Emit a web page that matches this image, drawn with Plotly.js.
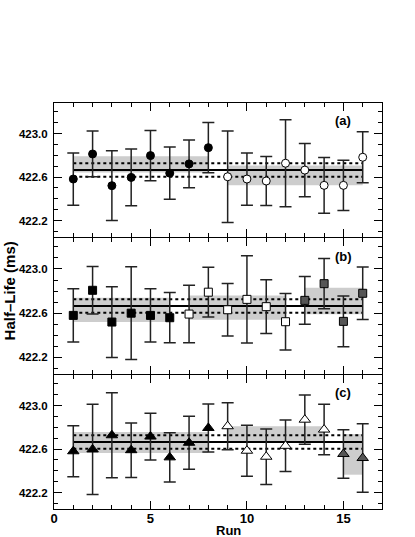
<!DOCTYPE html>
<html>
<head>
<meta charset="utf-8">
<script src="https://cdn.plot.ly/plotly-3.0.1.min.js"></script>
<style>
  html, body { margin: 0; padding: 0; background: #fff; }
  #plot { width: 415px; height: 537px; }
</style>
</head>
<body>
<div id="plot"></div>
<script>
var runs = [1, 2, 3, 4, 5, 6, 7, 8, 9, 10, 11, 12, 13, 14, 15, 16];

// panel (a)
var hlA = [422.582, 422.812, 422.521, 422.597, 422.797, 422.636, 422.721, 422.870,
           422.603, 422.582, 422.564, 422.727, 422.664, 422.524, 422.524, 422.782];
var errA = [0.24, 0.21, 0.32, 0.26, 0.23, 0.24, 0.22, 0.23,
            0.42, 0.24, 0.225, 0.40, 0.245, 0.255, 0.23, 0.235];
// panel (b)
var hlB = [422.580, 422.807, 422.520, 422.600, 422.580, 422.559, 422.592, 422.790,
           422.631, 422.725, 422.659, 422.523, 422.716, 422.867, 422.526, 422.780];
var errB = [0.24, 0.215, 0.32, 0.42, 0.24, 0.227, 0.26, 0.225,
            0.237, 0.395, 0.243, 0.255, 0.215, 0.228, 0.23, 0.237];
// panel (c)
var hlC = [422.580, 422.597, 422.727, 422.590, 422.715, 422.524, 422.658, 422.794,
           422.810, 422.585, 422.530, 422.630, 422.870, 422.779, 422.555, 422.518];
var errC = [0.235, 0.415, 0.39, 0.25, 0.215, 0.226, 0.243, 0.22,
            0.215, 0.235, 0.255, 0.236, 0.226, 0.232, 0.223, 0.315];

// run groups: [first run, last run, style], band lo/hi per group
var groupsA = [[1, 8, 0], [9, 16, 1]];
var bandLoA = [422.642, 422.524];
var bandHiA = [422.790, 422.706];
var groupsB = [[1, 6, 0], [7, 12, 1], [13, 16, 2]];
var bandLoB = [422.520, 422.540, 422.590];
var bandHiB = [422.740, 422.760, 422.830];
var groupsC = [[1, 8, 0], [9, 14, 1], [15, 16, 2]];
var bandLoC = [422.564, 422.675, 422.365];
var bandHiC = [422.758, 422.810, 422.738];

var meanHL = 422.665;
var meanLo = 422.603;
var meanHi = 422.727;

var yTicks = [422.2, 422.6, 423.0];
var yTickText = ['422.2', '422.6', '423.0'];
var xTicks = [0, 5, 10, 15];
var panelLabels = ['(a)', '(b)', '(c)'];

var fills = ['#000000', '#ffffff', '#555555'];
var FONT = 'Liberation Sans, Arial, Helvetica, sans-serif';

var data = [];

function addPanel(hl, err, groups, lo, hi, symbol, size, xa, ya) {
  // shaded bands
  groups.forEach(function (g, i) {
    data.push({
      x: [g[0], g[1], g[1], g[0], g[0]],
      y: [lo[i], lo[i], hi[i], hi[i], lo[i]],
      xaxis: xa, yaxis: ya,
      mode: 'lines', fill: 'toself', fillcolor: '#cdcdcd',
      line: {width: 0, color: '#cdcdcd'}, hoverinfo: 'skip', showlegend: false
    });
  });
  // mean and +-1 sigma lines
  data.push({x: [runs[0], runs[runs.length - 1]], y: [meanHL, meanHL], xaxis: xa, yaxis: ya,
    mode: 'lines', line: {color: '#000', width: 2}, showlegend: false});
  [meanLo, meanHi].forEach(function (v) {
    data.push({x: [runs[0], runs[runs.length - 1]], y: [v, v], xaxis: xa, yaxis: ya,
      mode: 'lines', line: {color: '#000', width: 2, dash: 'dot'}, showlegend: false});
  });
  // points
  groups.forEach(function (g) {
    var xs = [], ys = [], es = [];
    for (var k = g[0]; k <= g[1]; k++) {
      xs.push(runs[k - 1]); ys.push(hl[k - 1]); es.push(err[k - 1]);
    }
    data.push({
      x: xs, y: ys, xaxis: xa, yaxis: ya, mode: 'markers',
      error_y: {type: 'data', array: es, visible: true, color: '#222', thickness: 1.5, width: 6},
      marker: {symbol: symbol, size: size, color: fills[g[2]], line: {color: '#000', width: 1}},
      showlegend: false
    });
  });
}

addPanel(hlA, errA, groupsA, bandLoA, bandHiA, 'circle', 8, 'x3', 'y3');
addPanel(hlB, errB, groupsB, bandLoB, bandHiB, 'square', 8, 'x2', 'y2');
addPanel(hlC, errC, groupsC, bandLoC, bandHiC, 'triangle-up', 10, 'x', 'y');

function xAxis(anchor, labels) {
  return {
    anchor: anchor, range: [0, 17], showgrid: false, zeroline: false,
    showline: true, linecolor: '#000', linewidth: 1, mirror: 'ticks',
    ticks: 'inside', ticklen: 8, tickcolor: '#000', tickvals: xTicks,
    showticklabels: labels, ticklabelstandoff: -3,
    tickfont: {family: FONT, size: 13, weight: 'bold', color: '#000'},
    minor: {dtick: 1, tick0: 0, ticks: 'inside', ticklen: 4, tickcolor: '#000'}
  };
}
function yAxis(anchor, domain) {
  return {
    anchor: anchor, domain: domain, range: [422.05, 423.28],
    showgrid: false, zeroline: false,
    showline: true, linecolor: '#000', linewidth: 1, mirror: 'ticks',
    ticks: 'inside', ticklen: 8, tickcolor: '#000',
    tickvals: yTicks, ticktext: yTickText, ticklabelstandoff: 3,
    tickfont: {family: FONT, size: 11.5, weight: 'bold', color: '#000'},
    minor: {tickmode: 'linear', dtick: 0.1, tick0: 422.0, ticks: 'inside', ticklen: 4, tickcolor: '#000'}
  };
}

var annots = [
  {text: 'Half–Life (ms)', textangle: -90, xref: 'paper', yref: 'paper', x: -0.137, y: 0.536,
   xanchor: 'center', yanchor: 'middle', showarrow: false,
   font: {family: FONT, size: 15, weight: 'bold', color: '#000'}},
  {text: 'Run', xref: 'paper', yref: 'paper', x: 0.5335, y: -0.052,
   xanchor: 'center', yanchor: 'middle', showarrow: false,
   font: {family: FONT, size: 13, weight: 'bold', color: '#000'}}
];
var labelY = [0.956, 0.621, 0.286];
panelLabels.forEach(function (t, i) {
  annots.push({text: t, xref: 'paper', yref: 'paper', x: 0.882, y: labelY[i],
    xanchor: 'center', yanchor: 'middle', showarrow: false,
    font: {family: FONT, size: 13, weight: 'bold', color: '#000'}});
});

var layout = {
  width: 415, height: 537,
  margin: {l: 54, r: 33, t: 103, b: 28},
  paper_bgcolor: '#fff', plot_bgcolor: '#fff',
  showlegend: false,
  xaxis: xAxis('y', true),
  xaxis2: xAxis('y2', false),
  xaxis3: xAxis('y3', false),
  yaxis: yAxis('x', [0, 0.330]),
  yaxis2: yAxis('x2', [0.3325, 0.6675]),
  yaxis3: yAxis('x3', [0.670, 1]),
  annotations: annots
};

Plotly.newPlot('plot', data, layout, {staticPlot: true});
</script>
</body>
</html>
